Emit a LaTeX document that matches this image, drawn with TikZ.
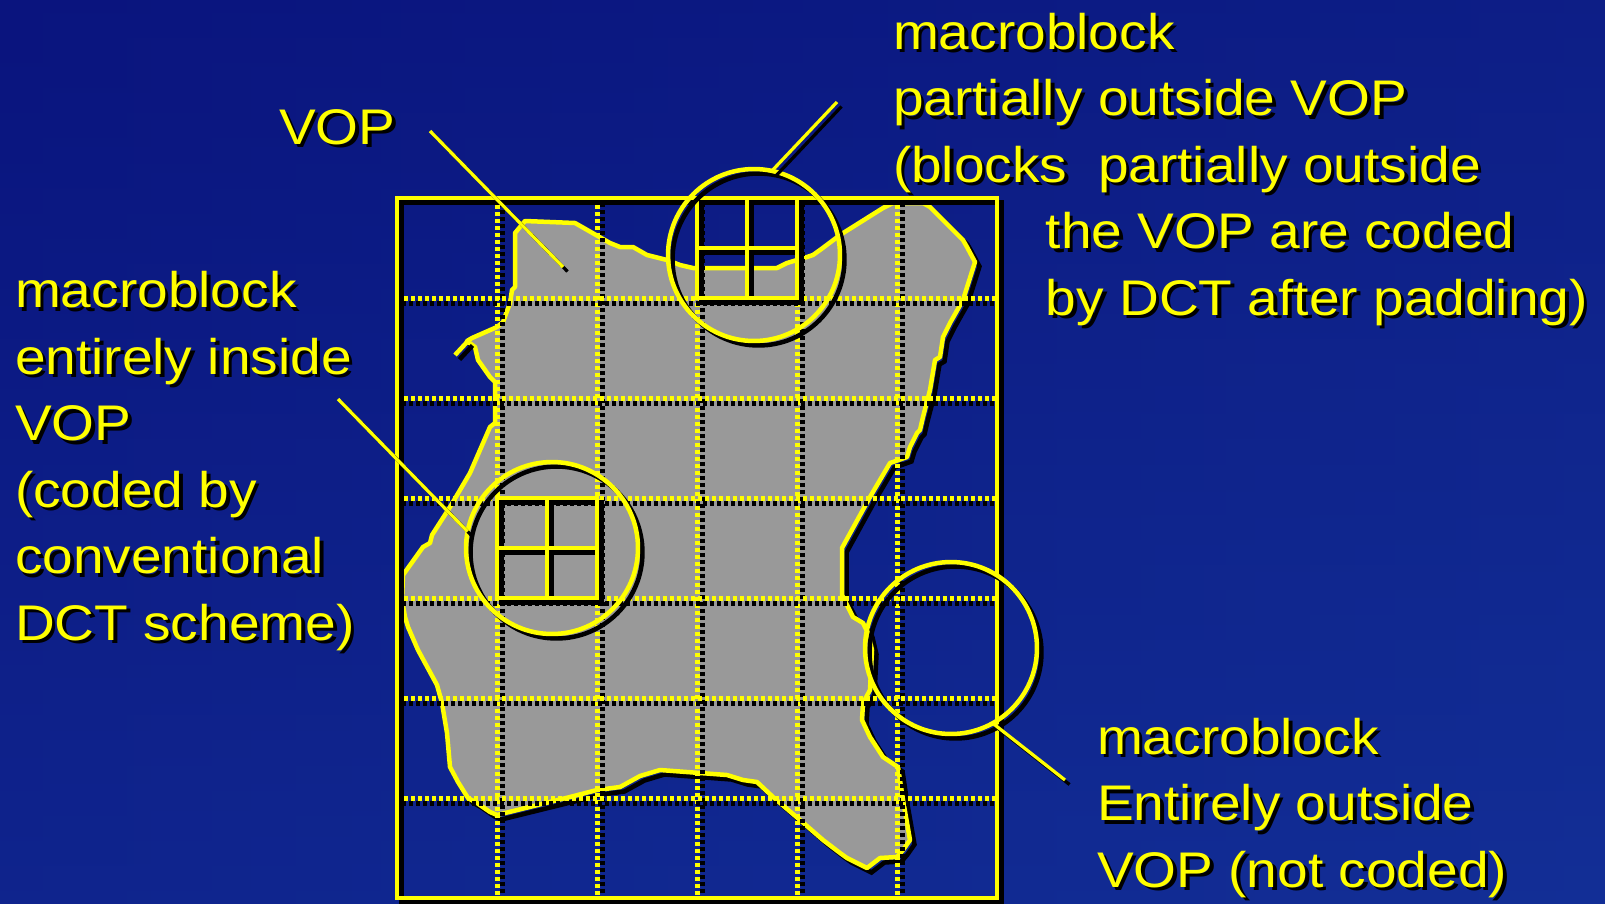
\documentclass[tikz,border=0pt]{standalone}
\usepackage{fontspec}
\setmainfont{Liberation Sans}[FakeStretch=1.1]
\usepackage{tikz}
\usetikzlibrary{positioning}
\definecolor{vopyellow}{HTML}{FFFF00}
\definecolor{vopgray}{HTML}{999999}
\definecolor{bgleft}{HTML}{0A147E}
\definecolor{bgright}{HTML}{10278E}
\definecolor{bglow}{HTML}{1638A0}
% yellow label with its black drop shadow
\newcommand{\shlabel}[3]{%
  \node[txtshadow] (#1s) at (#2) {#3};
  \node[txt] (#1) at (#2) {#3};}

\begin{document}
\begin{tikzpicture}[x=0.02cm,y=-0.02cm,
  every node/.style={inner sep=0pt,outer sep=0pt},
  txt/.style={text=vopyellow,font=\fontsize{28.5}{37.8}\selectfont,align=left,anchor=base west},
  txtshadow/.style={txt,text=black,xshift=0.07cm,yshift=-0.07cm},
  shdw/.style={preaction={draw=black,line width=#1,transform canvas={shift={(0.09cm,-0.09cm)}}}},
  ylwline/.style={draw=vopyellow,line width=0.09cm,shdw=0.09cm},
  leader/.style={draw=vopyellow,line width=0.065cm,shdw=0.065cm},
  gridline/.style={draw=vopyellow,line width=0.1cm,dash pattern=on 0.08cm off 0.06cm,
    preaction={draw=black,line width=0.1cm,dash pattern=on 0.08cm off 0.06cm,
      transform canvas={shift={(0.1cm,-0.1cm)}}}},
  magcirc/.style={circle,draw=vopyellow,line width=0.09cm,minimum size=3.44cm,shdw=0.09cm}]
  \useasboundingbox (0,0) rectangle (1605,903);
  \shade[left color=bgleft,right color=bgright] (0,0) rectangle (1605,903);
  \shade[top color=bgleft,bottom color=bglow,opacity=0.45] (0,0) rectangle (1605,903);

  % the VOP
  \draw[ylwline,fill=vopgray,line join=round]
    (515,233) -- (525,221) -- (575,223) -- (610,243) -- (620,247) -- (633,247) -- (647,255)
    -- (667,260) -- (680,265) -- (693,268) -- (707,268) -- (777,268) -- (787,263) -- (797,260)
    -- (807,257) -- (813,255) -- (820,250) -- (840,235) -- (883,208) -- (893,203) -- (923,203)
    -- (930,207) -- (953,230) -- (963,240) -- (967,247) -- (975,262) -- (963,300) -- (950,323)
    -- (943,337) -- (940,357) -- (935,360) -- (930,390) -- (923,417) -- (920,430) -- (917,433)
    -- (910,447) -- (907,457) -- (893,462) -- (890,463) -- (870,497) -- (842,548) -- (842,595)
    -- (847,605) -- (853,617) -- (863,623) -- (868,633) -- (872,650) -- (870,690) -- (863,703)
    -- (862,720) -- (870,737) -- (883,757) -- (898,767) -- (903,800) -- (910,840) -- (903,850)
    -- (897,857) -- (880,858) -- (867,868) -- (857,863) -- (847,858) -- (840,853) -- (823,840)
    -- (800,820) -- (773,797) -- (757,782) -- (743,780) -- (727,775) -- (700,773) -- (660,770)
    -- (640,776) -- (620,787) -- (597,790) -- (570,797) -- (497,815) -- (490,812) -- (477,803)
    -- (468,798) -- (458,782) -- (450,767) -- (447,733) -- (442,703) -- (437,685) -- (418,650)
    -- (408,627) -- (405,617) -- (402,600) -- (403,575) -- (423,547) -- (430,543) -- (432,535)
    -- (450,507) -- (470,473) -- (490,427) -- (495,423) -- (495,382) -- (490,377) -- (478,360)
    -- (475,347) -- (467,341) -- (472,338) -- (497,327) -- (503,322) -- (510,303) -- (512,290)
    -- (515,287) -- cycle;
  \draw[ylwline] (468,341) -- (455,355);

  % macroblock grid
  \foreach \gx in {497,597,...,897}
    \draw[gridline] (\gx,198) -- (\gx,898);
  \foreach \gy in {298,398,...,798}
    \draw[gridline] (397,\gy) -- (997,\gy);
  \draw[ylwline] (397,198) rectangle (997,898);

  % blocks of the two marked macroblocks
  \draw[ylwline] (697,198) rectangle (797,298) (747,198) -- (747,298) (697,248) -- (797,248);
  \draw[ylwline] (497,498) rectangle (597,598) (547,498) -- (547,598) (497,548) -- (597,548);

  \node[magcirc] (partc) at (754,255) {};
  \node[magcirc] (inc) at (552,548) {};
  \node[magcirc] (outc) at (951,648) {};

  \coordinate (vopfrom) at (430,131);
  \coordinate (vopin) at (563,267);
  \coordinate (partend) at (837,102);
  \coordinate (inend) at (338,399);
  \coordinate (outend) at (1065,780);
  \draw[leader] (vopfrom) -- (vopin);
  \draw[leader] (partc.78) -- (partend);
  \draw[leader] (inend) -- (inc.169);
  \draw[leader] (outc.-61) -- (outend);

  % labels (placed at the baseline of their last line)
  \shlabel{voplbl}{279,144}{VOP}
  \shlabel{partlbl}{893,315}{macroblock\\partially outside VOP\\(blocks\ \ partially outside\\\hspace*{3.06cm}the VOP are coded\\\hspace*{3.06cm}by DCT after padding)}
  \shlabel{inlbl}{15,640}{macroblock\\entirely inside\\VOP\\(coded by\\conventional\\DCT scheme)}
  \shlabel{outlbl}{1097,887}{macroblock\\Entirely outside\\VOP (not coded)}
\end{tikzpicture}
\end{document}
